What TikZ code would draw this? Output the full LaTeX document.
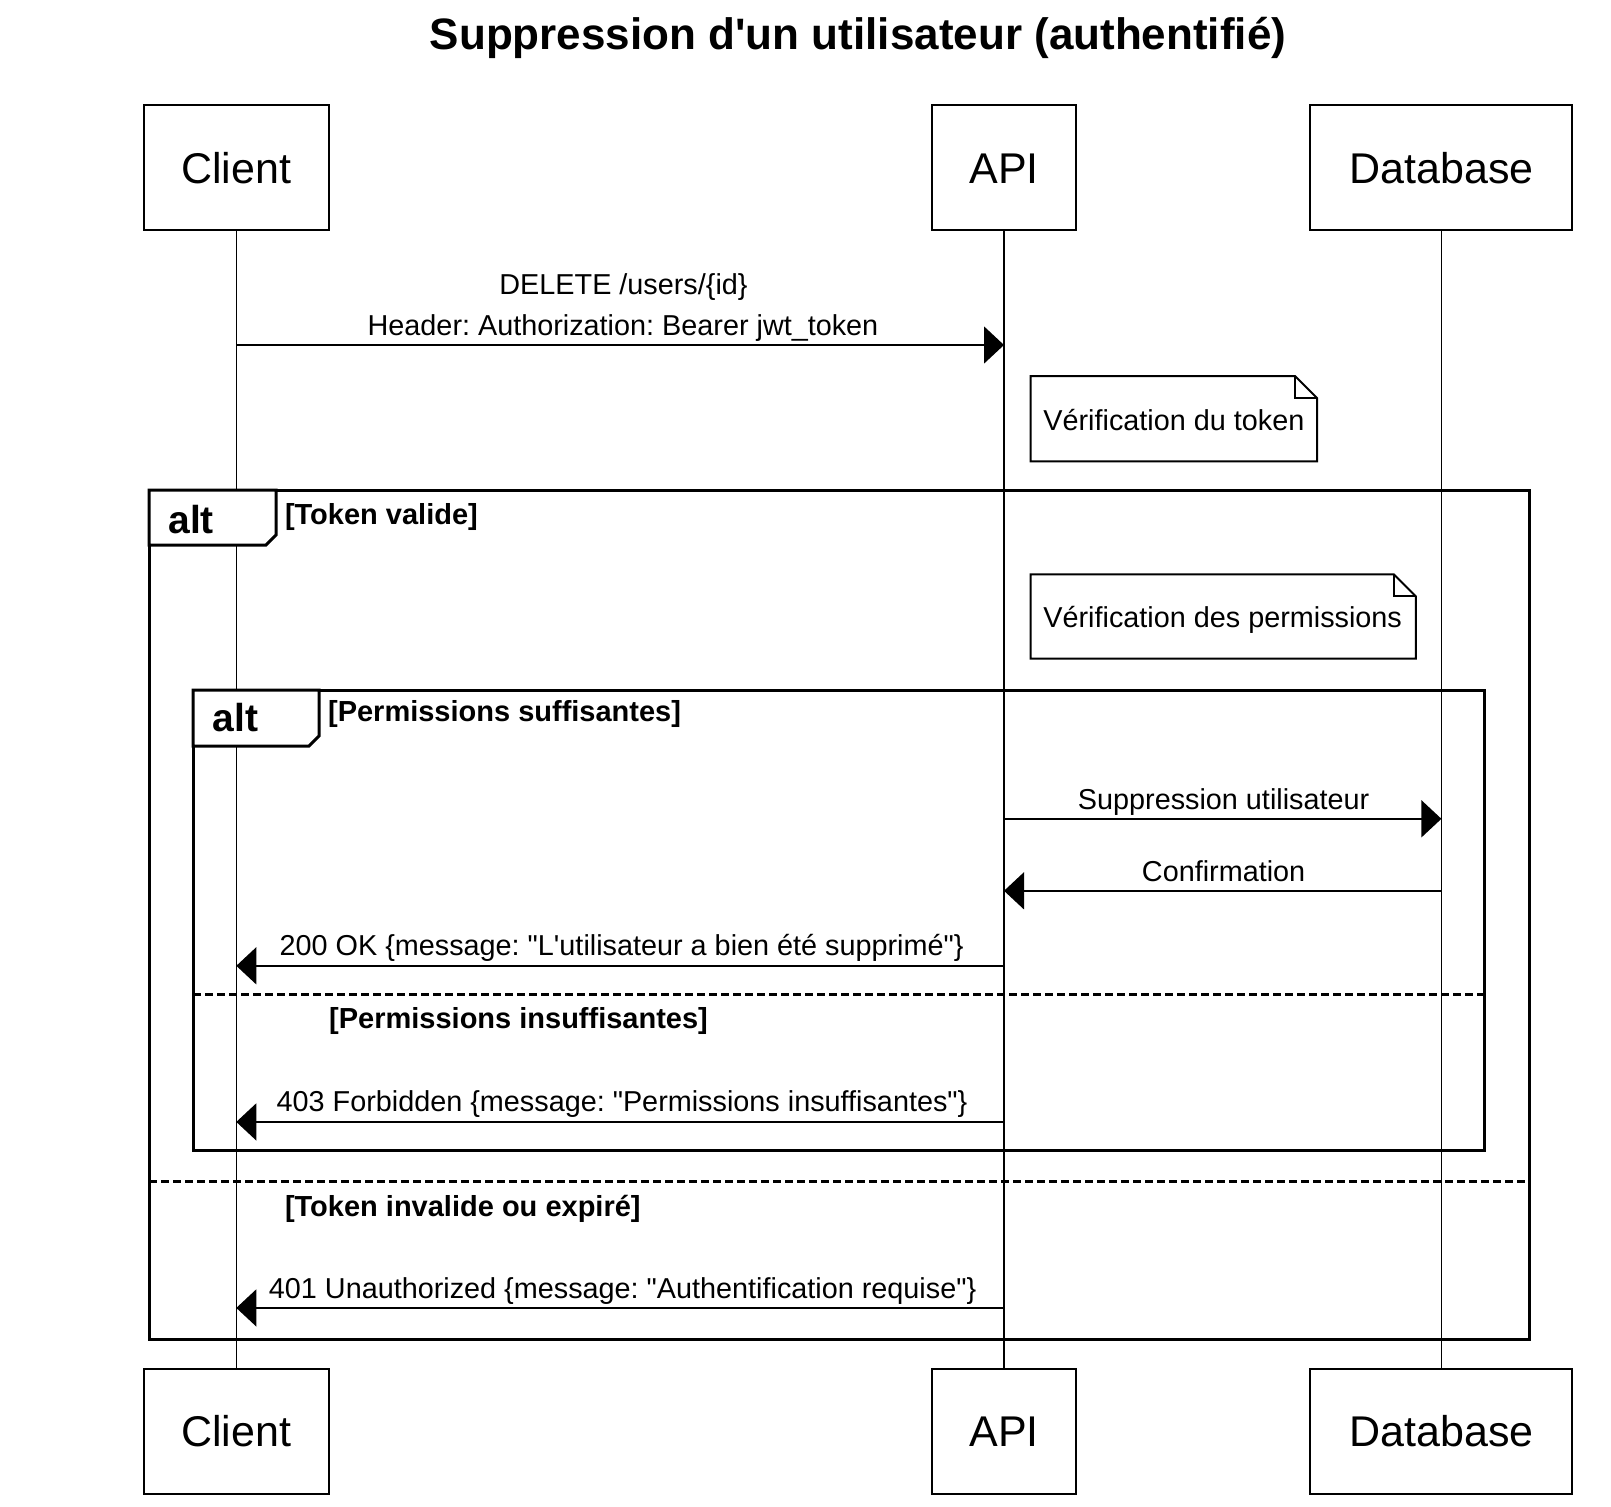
\documentclass[tikz,border=0pt]{standalone}
\usepackage{fontspec}
\setmainfont{Liberation Sans}[Ligatures=TeXOff]
\usetikzlibrary{arrows.meta}
\frenchspacing
\tikzset{
 part/.style={draw, line width=1pt, fill=white, minimum width=#1, minimum height=62.5pt, inner sep=0pt, text depth=0pt, text height=15.5pt, font=\fontsize{21.5pt}{25pt}\selectfont},
 life/.style={line width=0.75pt},
 msg/.style={line width=0.75pt, -{Triangle[length=10pt,width=18.5pt]}},
 lbl/.style={font=\fontsize{14.4pt}{17pt}\selectfont, inner sep=0pt, anchor=base},
 framebox/.style={line width=1.5pt},
 tabbox/.style={line width=1.5pt, fill=white},
 sep/.style={line width=1.25pt, dash pattern=on 4pt off 2pt},
 guard/.style={font=\bfseries\fontsize{14.5pt}{17pt}\selectfont, inner sep=0pt, anchor=base west},
 altlbl/.style={font=\bfseries\fontsize{19.5pt}{22pt}\selectfont, inner sep=0pt, anchor=base west},
 notebox/.style={line width=1pt, fill=white},
 notetext/.style={font=\fontsize{14.4pt}{17pt}\selectfont, inner sep=0pt, anchor=west},
}
\begin{document}
\frenchspacing
\begin{tikzpicture}[x=0.5pt,y=-0.5pt]
\useasboundingbox (0,0) rectangle (1611,1506);
\fill[white] (0,0) rectangle (1611,1506);

% title
\node[font=\bfseries\fontsize{22pt}{26pt}\selectfont, inner sep=0pt, anchor=base] (title) at (858,49) {Suppression d'un utilisateur (authentifié)};

% participants
\node[part=92.5pt] (ct) at (236.3,167.5) {Client};
\node[part=72.4pt] (at) at (1004,167.5) {API};
\node[part=131pt] (dt) at (1441.4,167.5) {Database};
\node[part=92.5pt] (cb) at (236.3,1431) {Client};
\node[part=72.4pt] (ab) at (1004,1431) {API};
\node[part=131pt] (db) at (1441.4,1431) {Database};

% lifelines
\draw[life] (ct) -- (cb);
\draw[life] (at) -- (ab);
\draw[life] (dt) -- (db);

% outer alt frame
\draw[framebox] (149,490) rectangle (1529,1339);
\draw[tabbox] (149,490) -- (276,490) -- (276,535) -- (266,545) -- (149,545) -- cycle;
\node[altlbl] (alt1) at (168,533) {alt};
\node[guard] (g1) at (284.6,524) {[Token valide]};
\draw[sep] (149,1181.5) -- (1529,1181.5);
\node[guard] (g4) at (284.6,1216) {[Token invalide ou expiré]};

% inner alt frame
\draw[framebox] (193,690) rectangle (1484,1150.7);
\draw[tabbox] (193,690) -- (319,690) -- (319,736) -- (309,746) -- (193,746) -- cycle;
\node[altlbl] (alt2) at (212.5,731) {alt};
\node[guard] (g2) at (327.7,721) {[Permissions suffisantes]};
\draw[sep] (193,994.5) -- (1484,994.5);
\node[guard] (g3) at (328.8,1028.5) {[Permissions insuffisantes]};

% notes
\draw[notebox] (1030.5,376) -- (1295,376) -- (1317,398) -- (1317,461.3) -- (1030.5,461.3) -- cycle;
\draw[line width=1pt] (1295,376) -- (1295,398) -- (1317,398);
\node[notetext] (n1) at (1043,420.5) {Vérification du token};
\draw[notebox] (1030.5,574.3) -- (1393.8,574.3) -- (1415.8,596.3) -- (1415.8,658.6) -- (1030.5,658.6) -- cycle;
\draw[line width=1pt] (1393.8,574.3) -- (1393.8,596.3) -- (1415.8,596.3);
\node[notetext] (n2) at (1043,620) {Vérification des permissions};

% message end points
\coordinate (m1c) at (236.3,345);   \coordinate (m1a) at (1004,345);
\coordinate (m2a) at (1004,818.8);  \coordinate (m2d) at (1441.4,818.8);
\coordinate (m3d) at (1441.4,890.8);\coordinate (m3a) at (1004,890.8);
\coordinate (m4a) at (1004,965.8);  \coordinate (m4c) at (236.3,965.8);
\coordinate (m5a) at (1004,1121.9); \coordinate (m5c) at (236.3,1121.9);
\coordinate (m6a) at (1004,1307.9); \coordinate (m6c) at (236.3,1307.9);

\draw[msg] (m1c) -- (m1a);
\draw[msg] (m2a) -- (m2d);
\draw[msg] (m3d) -- (m3a);
\draw[msg] (m4a) -- (m4c);
\draw[msg] (m5a) -- (m5c);
\draw[msg] (m6a) -- (m6c);

% message labels
\node[lbl] (t1a) at (623.5,294) {DELETE /users/\{id\}};
\node[lbl] (t1b) at (623,335.5) {Header: Authorization: Bearer jwt\_token};
\node[lbl] (t2) at (1223.6,809.5) {Suppression utilisateur};
\node[lbl] (t3) at (1223.6,881.5) {Confirmation};
\node[lbl] (t4) at (621.6,955) {200 OK \{message: "L'utilisateur a bien été supprimé"\}};
\node[lbl] (t5) at (622,1111.5) {403 Forbidden \{message: "Permissions insuffisantes"\}};
\node[lbl] (t6) at (622.6,1298) {401 Unauthorized \{message: "Authentification requise"\}};
\end{tikzpicture}
\end{document}
